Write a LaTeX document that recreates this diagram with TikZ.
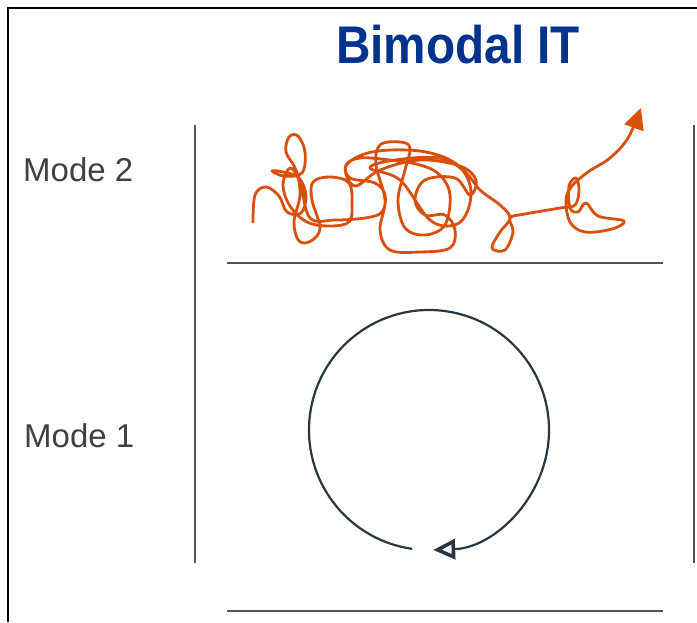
\documentclass[tikz,border=0pt]{standalone}
\usepackage{fontspec}
\setmainfont{Liberation Sans}
\newfontfamily\titlefont[FakeStretch=0.9]{Liberation Sans}
\usetikzlibrary{arrows.meta}
\definecolor{titleblue}{RGB}{0,51,141}
\definecolor{scribble}{RGB}{217,79,12}
\definecolor{cycleblue}{RGB}{40,55,68}
\definecolor{rulegray}{RGB}{85,85,85}
\definecolor{labelgray}{RGB}{64,64,64}
\begin{document}
\begin{tikzpicture}[x=1pt,y=-1pt,
        rule/.style={rulegray,line width=2.2pt},
        modelabel/.style={anchor=base west,inner sep=0pt,text=labelgray,font=\fontsize{33}{38}\selectfont},
        chaos/.style={scribble,line width=2.8pt,line join=round,-{Triangle[length=21pt,width=20pt]}},
        cycle/.style={cycleblue,line width=2.2pt,-{Triangle[open,length=22pt,width=20pt,line width=3.6pt]}}]
    \useasboundingbox (0,0) rectangle (697,622);
    % frame
    \draw[black,line width=2.4pt] (8,622) -- (8,8) -- (697,8);
    % columns and floors
    \draw[rule] (195,125) -- (195,563) (694,125) -- (694,563);
    \draw[rule] (227,263) -- (663,263) (227,611) -- (663,611);
    % texts
    \node[anchor=base,inner sep=0pt,text=titleblue,font=\titlefont\bfseries\fontsize{53}{60}\selectfont] (title) at (458,63) {Bimodal IT};
    \node[modelabel] (mode2) at (23,181) {Mode 2};
    \node[modelabel] (mode1) at (24,447) {Mode 1};
    % mode 2
    \draw[chaos] plot[smooth,tension=0.6] coordinates {
        (253,223) (255,195) (266,187) (279,196) (287,212) (301,213) (306,196) (299,178)
        (283,172) (272,171) (284,176) (302,173) (305,152) (298,136) (289,137) (286,152)
        (296,170) (300,195) (294,222) (299,241) (311,241) (320,228) (312,200) (313,182)
        (330,177) (349,183) (352,205) (349,222) (330,226) (307,222) (290,206) (283,185)
        (290,168) (300,182) (310,218) (335,220) (365,218) (382,212) (385,195) (375,183)
        (350,178) (346,165) (360,158) (390,160) (420,165) (440,175) (450,195) (445,225)
        (425,235) (405,228) (398,200) (405,170) (410,148) (400,142) (380,145) (376,165)
        (385,200) (380,230) (390,250) (420,252) (450,248) (455,230) (445,215) (425,215)
        (415,200) (425,180) (455,178) (470,195) (476,180) (460,166) (420,160) (380,170)
        (355,186) (346,166) (372,152) (420,151) (455,163) (470,185) (468,210) (455,225)
        (430,220) (400,180) (370,168) (395,160) (440,158) (465,172) (480,190) (500,205)
        (510,218) (500,232) (492,248) (505,250) (513,232) (510,218) (525,214) (560,208)
        (575,205) (579,190) (576,178) (569,186) (570,208) (578,212) (586,203) (598,216)
        (624,221) (612,229) (585,232) (570,222) (566,200) (572,186) (588,172) (610,158)
        (628,138) (641,108)};
    % mode 1
    \coordinate (hub) at (429,430);
    \draw[cycle] ([shift={(262:120pt)}]hub) arc[start angle=262,end angle=-88,radius=120pt];
\end{tikzpicture}
\end{document}
